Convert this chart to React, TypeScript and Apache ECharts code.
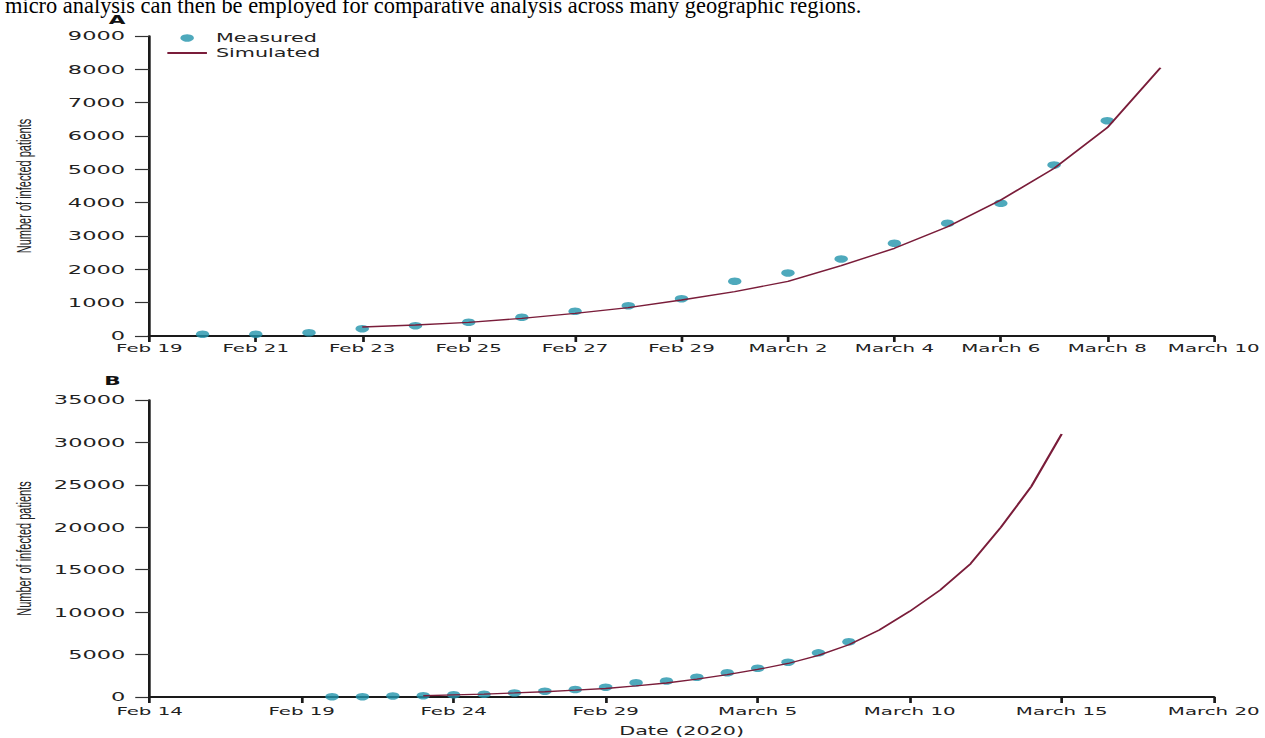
import React, { useEffect, useRef } from "react";
import * as echarts from "echarts";

// ---------- data ----------
const xTickLabelsA = ["Feb 19", "Feb 21", "Feb 23", "Feb 25", "Feb 27", "Feb 29", "March 2", "March 4", "March 6", "March 8", "March 10"];
const xTickLabelsB = ["Feb 14", "Feb 19", "Feb 24", "Feb 29", "March 5", "March 10", "March 15", "March 20"];
const yTickLabelsA = ["0", "1000", "2000", "3000", "4000", "5000", "6000", "7000", "8000", "9000"];
const yTickLabelsB = ["0", "5000", "10000", "15000", "20000", "25000", "30000", "35000"];

const measuredDates = [
  "2020-02-20", "2020-02-21", "2020-02-22", "2020-02-23", "2020-02-24", "2020-02-25",
  "2020-02-26", "2020-02-27", "2020-02-28", "2020-02-29", "2020-03-01", "2020-03-02",
  "2020-03-03", "2020-03-04", "2020-03-05", "2020-03-06", "2020-03-07", "2020-03-08",
];
const measuredA = [50, 50, 100, 220, 310, 410, 560, 740, 910, 1120, 1640, 1890, 2310, 2780, 3380, 3980, 5130, 6460];
const measuredB = [30, 30, 120, 160, 260, 320, 480, 680, 880, 1150, 1680, 1880, 2330, 2850, 3380, 4100, 5200, 6500];

const simulatedDatesA = [
  "2020-02-23", "2020-02-24", "2020-02-25", "2020-02-26", "2020-02-27", "2020-02-28",
  "2020-02-29", "2020-03-01", "2020-03-02", "2020-03-03", "2020-03-04", "2020-03-05",
  "2020-03-06", "2020-03-07", "2020-03-08", "2020-03-09",
];
const simulatedA = [270, 330, 410, 530, 680, 850, 1080, 1330, 1640, 2110, 2630, 3280, 4080, 5030, 6250, 8050];

const simulatedDatesB = [
  "2020-02-23", "2020-02-24", "2020-02-25", "2020-02-26", "2020-02-27", "2020-02-28",
  "2020-02-29", "2020-03-01", "2020-03-02", "2020-03-03", "2020-03-04", "2020-03-05",
  "2020-03-06", "2020-03-07", "2020-03-08", "2020-03-09", "2020-03-10", "2020-03-11",
  "2020-03-12", "2020-03-13", "2020-03-14", "2020-03-15",
];
const simulatedB = [150, 250, 350, 480, 620, 800, 1000, 1300, 1650, 2100, 2650, 3250, 3950, 4900, 6150, 7900, 10100, 12600, 15700, 20000, 24800, 31000];

const baseA = "2020-02-19";
const baseB = "2020-02-14";
const headerText = "micro analysis can then be employed for comparative analysis across many geographic regions.";

// ---------- helpers ----------
const PAGE_W = 1265;
const PAGE_H = 738;
const INNER_W = 703; // chart is drawn narrower, then stretched horizontally to match the reference
const K = PAGE_W / INNER_W;

const dayOf = (iso: string, base: string) =>
  Math.round((Date.parse(iso + "T00:00:00Z") - Date.parse(base + "T00:00:00Z")) / 86400000);

const pairs = (dates: string[], vals: number[], base: string) => dates.map((d, i) => [dayOf(d, base), vals[i]]);

const INK = "#1a1a1a";
const LABEL = "#222";
const DOT = "#2294ab";
const LINE = "#7a1d3a";
const SANS = "'DejaVu Sans', sans-serif";

function makeX(gridIndex: number, max: number, interval: number, labels: string[], margin: number, extra: any = {}) {
  return {
    gridIndex,
    type: "value",
    min: 0,
    max,
    interval,
    axisLine: { show: true, onZero: true, lineStyle: { color: INK, width: 2 } },
    axisTick: { show: true, length: 6, lineStyle: { color: INK, width: 1.5 } },
    axisLabel: {
      margin,
      fontSize: 11,
      color: LABEL,
      fontFamily: SANS,
      formatter: (v: number) => labels[Math.round(v / interval)] ?? "",
    },
    splitLine: { show: false },
    ...extra,
  };
}

function makeY(gridIndex: number, max: number, interval: number, labels: string[]) {
  return {
    gridIndex,
    type: "value",
    min: 0,
    max,
    interval,
    name: "Number of infected patients",
    nameLocation: "middle",
    nameRotate: 90,
    nameGap: 64,
    nameTextStyle: {
      fontFamily: "'Liberation Sans Narrow', 'Liberation Sans', sans-serif",
      fontSize: 11,
      color: LABEL,
    },
    axisLine: { show: true, lineStyle: { color: INK, width: 1.5 } },
    axisTick: { show: true, length: 8, lineStyle: { color: "#333", width: 1.2 } },
    axisLabel: {
      margin: 13.5,
      fontSize: 12.5,
      color: LABEL,
      fontFamily: SANS,
      formatter: (v: number) => labels[Math.round(v / interval)] ?? "",
    },
    splitLine: { show: false },
  };
}

export default function App() {
  const ref = useRef<HTMLDivElement>(null);

  useEffect(() => {
    if (!ref.current) return;
    const chart = echarts.init(ref.current, null, { renderer: "svg" });
    const option: any = {
      animation: false,
      backgroundColor: "#ffffff",
      title: [
        { text: "A", left: 60.5, top: 13.5, padding: 0, textStyle: { fontSize: 12, fontWeight: "bold", fontFamily: SANS, color: "#111" } },
        { text: "B", left: 58, top: 375, padding: 0, textStyle: { fontSize: 12, fontWeight: "bold", fontFamily: SANS, color: "#111" } },
      ],
      legend: {
        left: 88,
        top: 27,
        orient: "vertical",
        itemWidth: 22,
        itemHeight: 7.5,
        itemGap: 3,
        selectedMode: false,
        textStyle: { fontSize: 11.5, color: LABEL, fontFamily: SANS },
        data: [
          { name: "Measured", icon: "circle" },
          { name: "Simulated", icon: "path://M0,0H30V2.5H0Z" },
        ],
      },
      grid: [
        { left: 79.5, right: 28.3, top: 36, bottom: 402 },
        { left: 79.5, right: 28.3, top: 400, bottom: 38 },
      ],
      xAxis: [
        makeX(0, 20, 2, xTickLabelsA, 7),
        makeX(1, 35, 5, xTickLabelsB, 9, {
          name: "Date (2020)",
          nameLocation: "middle",
          nameGap: 28,
          nameTextStyle: { fontSize: 11.5, color: LABEL, fontFamily: SANS },
        }),
      ],
      yAxis: [makeY(0, 9000, 1000, yTickLabelsA), makeY(1, 35000, 5000, yTickLabelsB)],
      series: [
        {
          name: "Measured",
          type: "scatter",
          xAxisIndex: 0,
          yAxisIndex: 0,
          symbol: "circle",
          symbolSize: 7.5,
          itemStyle: { color: DOT },
          data: pairs(measuredDates, measuredA, baseA),
        },
        {
          name: "Simulated",
          type: "line",
          xAxisIndex: 0,
          yAxisIndex: 0,
          symbol: "none",
          lineStyle: { color: LINE, width: 1.3 },
          itemStyle: { color: LINE },
          data: pairs(simulatedDatesA, simulatedA, baseA),
        },
        {
          name: "Measured",
          type: "scatter",
          xAxisIndex: 1,
          yAxisIndex: 1,
          symbol: "circle",
          symbolSize: 7.5,
          itemStyle: { color: DOT },
          data: pairs(measuredDates, measuredB, baseB),
        },
        {
          name: "Simulated",
          type: "line",
          xAxisIndex: 1,
          yAxisIndex: 1,
          symbol: "none",
          lineStyle: { color: LINE, width: 1.3 },
          itemStyle: { color: LINE },
          data: pairs(simulatedDatesB, simulatedB, baseB),
        },
      ],
      graphic: [
        {
          type: "text",
          x: 5 / K,
          y: 5.5,
          scaleX: 1 / K,
          silent: true,
          style: {
            text: headerText,
            fill: "#000",
            font: "22.4px 'Liberation Serif', 'Times New Roman', serif",
            textVerticalAlign: "middle",
            verticalAlign: "middle",
          },
        },
      ],
    };
    chart.setOption(option);
    return () => chart.dispose();
  }, []);

  return (
    <div style={{ position: "absolute", left: 0, top: 0, width: PAGE_W, height: PAGE_H, overflow: "hidden", background: "#fff" }}>
      <div
        ref={ref}
        style={{
          width: INNER_W,
          height: PAGE_H,
          transform: `scaleX(${K})`,
          transformOrigin: "0 0",
        }}
      />
    </div>
  );
}
